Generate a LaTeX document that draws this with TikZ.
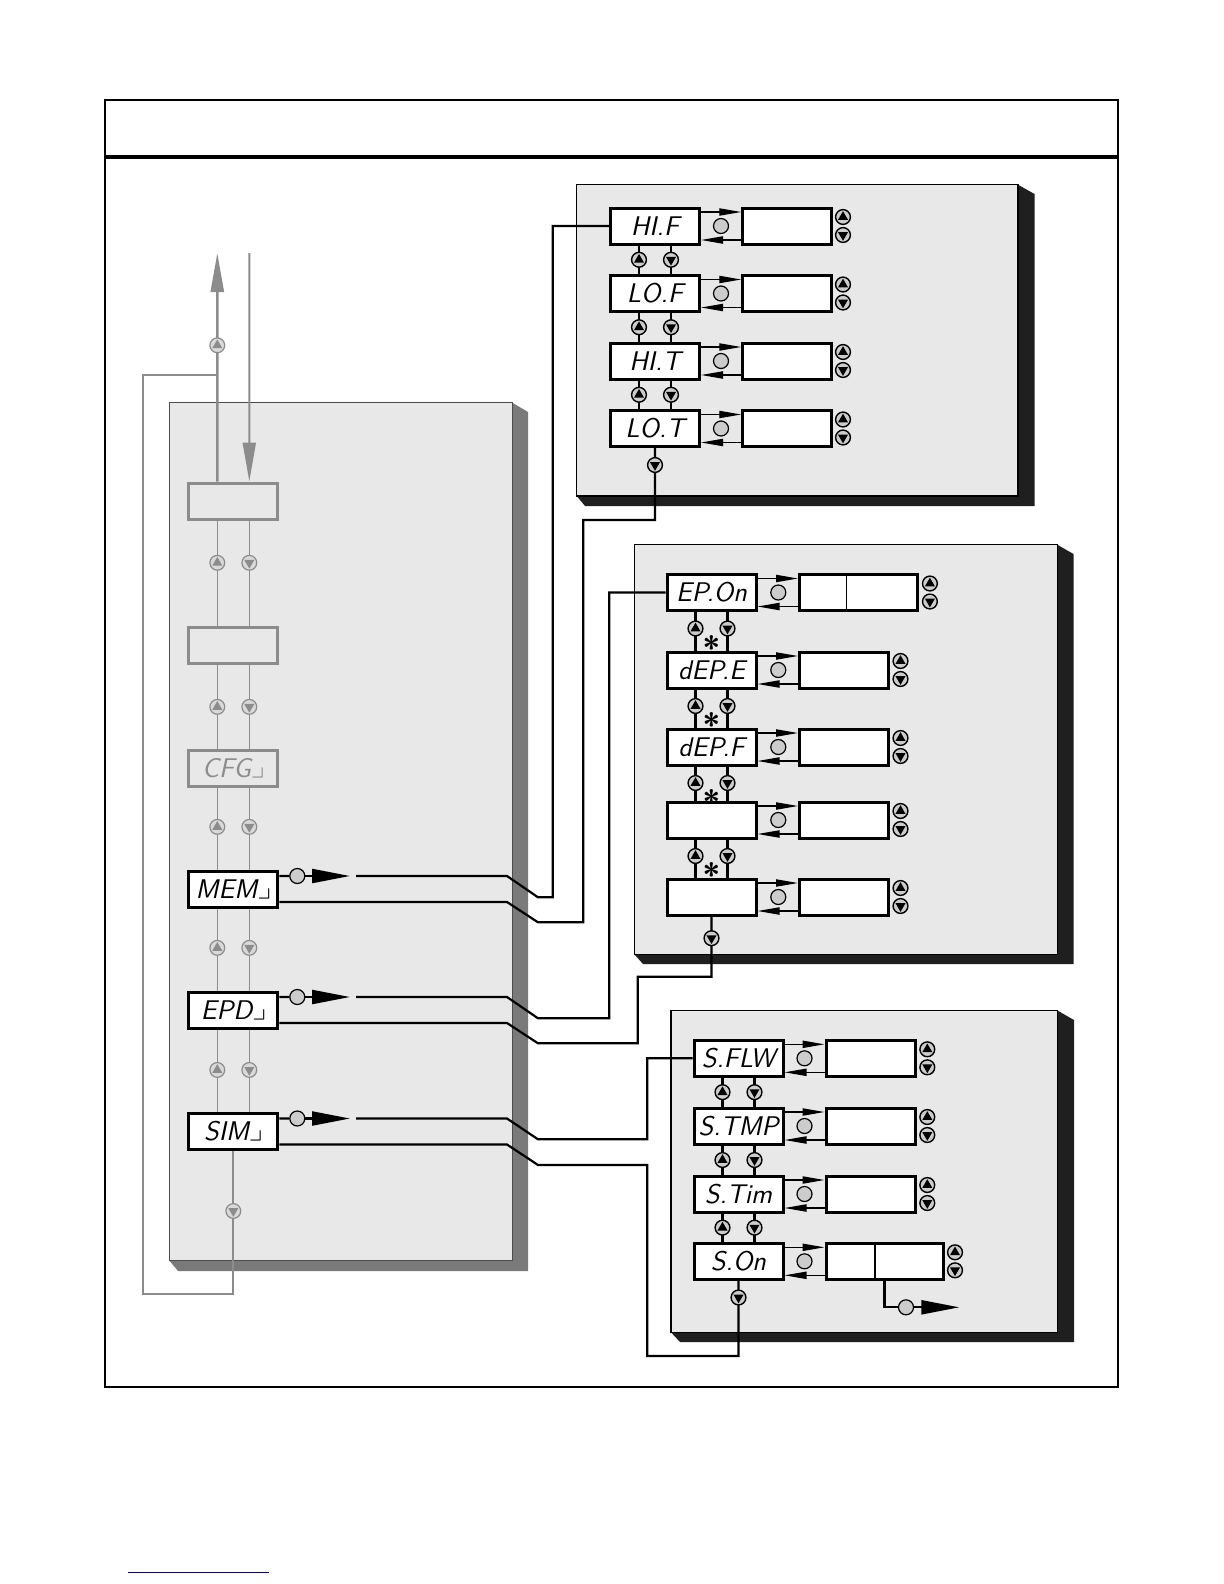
\documentclass[tikz,border=0pt]{standalone}
\usepackage{amssymb}
\usetikzlibrary{arrows.meta,calc}

\definecolor{panel}{gray}{0.91}
\definecolor{ghost}{gray}{0.55}

\tikzset{
  lcd/.style={draw,line width=1.5bp,fill=white,minimum width=44.5bp,minimum height=18bp,
    inner sep=0pt,font=\sffamily\slshape\fontsize{13.5bp}{13.5bp}\selectfont},
  valbox/.style={draw,line width=1.5bp,fill=white,minimum height=18bp,inner sep=0pt},
  okkey/.style={circle,draw,line width=0.6bp,fill=gray!40,minimum size=7.5bp,inner sep=0pt},
  wire/.style={line width=1.1bp},
  thinwire/.style={line width=0.7bp},
  smallarr/.style={-{Triangle[length=11bp,width=3.6bp]}},
  bigarr/.style={-{Triangle[length=19bp,width=7bp]}},
  star/.style={font=\sffamily\bfseries\fontsize{16bp}{16bp}\selectfont,inner sep=0pt,
    text height=0.75em,text depth=-0.3em},
  keycirc/.style={draw=black,fill=gray!40,line width=0.7bp},
  keytri/.style={fill=black},
  pics/keyup/.style={code={\draw[keycirc] (0,0) circle (3.7bp);
      \fill[keytri] (90:2.9bp) -- (210:2.9bp) -- (330:2.9bp) -- cycle;}},
  pics/keydown/.style={code={\draw[keycirc] (0,0) circle (3.7bp);
      \fill[keytri] (270:2.9bp) -- (30:2.9bp) -- (150:2.9bp) -- cycle;}},
}

\begin{document}
\begin{tikzpicture}[x=0.5bp,y=-0.5bp]
  \useasboundingbox (0,0) rectangle (1224,1584);

  % Marco
  \draw[line width=1.3bp] (105,100) rectangle (1118,1387);
  \draw[line width=2bp] (105,156.5) -- (1118,156.5);
  \draw[blue!50!black,line width=0.7bp] (128,1572.5) -- (268.5,1572.5);

  % Paneles
  \fill[black!52] (169.3,1260.5) -- (178,1271) -- (528,1271) -- (528,412) -- (512.3,402.7) -- (512.3,1260.5) -- cycle;
  \draw[fill=panel,draw=black!70,line width=0.6bp] (169.3,402.7) rectangle (512.3,1260.5);

  \fill[black!88] (576.7,496) -- (585,506) -- (1034.5,506) -- (1034.5,194) -- (1018,184.7) -- (1018,496) -- cycle;
  \draw[fill=panel,line width=0.6bp] (576.7,184.7) rectangle (1018,496);

  \fill[black!88] (634.3,954.3) -- (643,964) -- (1073.5,964) -- (1073.5,554) -- (1057.3,544.7) -- (1057.3,954.3) -- cycle;
  \draw[fill=panel,line width=0.6bp] (634.3,544.7) rectangle (1057.3,954.3);

  \fill[black!88] (671,1332.3) -- (680,1342) -- (1074,1342) -- (1074,1020) -- (1057.7,1010.7) -- (1057.7,1332.3) -- cycle;
  \draw[fill=panel,line width=0.6bp] (671,1010.7) rectangle (1057.7,1332.3);

  % Panel izquierdo
  \begin{scope}[keycirc/.style={draw=ghost,fill=gray!30,line width=0.6bp},keytri/.style={fill=ghost}]
    \node[lcd,draw=ghost,fill=none] (blanka) at (233.3,501) {};
    \node[lcd,draw=ghost,fill=none] (blankb) at (233.3,645.7) {};
    \node[lcd,draw=ghost,fill=none,text=ghost] (cfg) at (233.3,768) {CFG$\lrcorner$};
    \node[lcd] (mem) at (233.3,889) {MEM$\lrcorner$};
    \node[lcd] (epd) at (233.3,1010) {EPD$\lrcorner$};
    \node[lcd] (sim) at (233.3,1131.5) {SIM$\lrcorner$};

    \coordinate (upend) at (217.3,253);
    \coordinate (downstart) at (249.3,253);
    \coordinate (loopjoin) at (217.3,374.7);
    \draw[ghost,line width=1.3bp,-{Triangle[length=19.5bp,width=6.5bp]}] ([xshift=-8bp]blanka.north) -- (upend);
    \draw[ghost,line width=1bp,-{Triangle[length=19.5bp,width=6.5bp]}] (downstart) -- ([xshift=8bp]blanka.north);
    \draw[ghost,line width=1bp] (loopjoin) -- (142.7,374.7) -- (142.7,1294) -| (sim.south);
    \pic at (217.3,345.3) {keyup};
    \pic at (233.3,1211) {keydown};

    \foreach \a/\b/\f in {blanka/blankb/.4, blankb/cfg/.5, cfg/mem/.48, mem/epd/.48, epd/sim/.49}{
      \draw[ghost,line width=0.8bp] ([xshift=-8bp]\a.south) -- ([xshift=-8bp]\b.north);
      \draw[ghost,line width=0.8bp] ([xshift=8bp]\a.south) -- ([xshift=8bp]\b.north);
      \pic at ($([xshift=-8bp]\a.south)!\f!([xshift=-8bp]\b.north)$) {keyup};
      \pic at ($([xshift=8bp]\a.south)!\f!([xshift=8bp]\b.north)$) {keydown};
    }
  \end{scope}

  % Primer bloque
  \foreach \y/\t/\n in {226/HI.F/hif, 293.5/LO.F/lof, 361/HI.T/hit, 428.5/LO.T/lot}{
    \node[lcd] (\n) at (655,\y) {\t};
    \node[valbox,minimum width=44.25bp] (\n val) at (787,\y) {};
    \node[okkey] at (721,\y) {};
    \draw[thinwire,smallarr] ([yshift=7bp]\n.east) -- ([yshift=7bp]\n val.west);
    \draw[thinwire,smallarr] ([yshift=-7bp]\n val.west) -- ([yshift=-7bp]\n.east);
    \pic at (843,{\y-9}) {keyup};
    \pic at (843,{\y+9}) {keydown};
  }
  \foreach \a/\b in {hif/lof, lof/hit, hit/lot}{
    \draw[wire] ([xshift=-8bp]\a.south) -- ([xshift=-8bp]\b.north);
    \draw[wire] ([xshift=8bp]\a.south) -- ([xshift=8bp]\b.north);
    \pic at ($([xshift=-8bp]\a.south)!.5!([xshift=-8bp]\b.north)$) {keyup};
    \pic at ($([xshift=8bp]\a.south)!.5!([xshift=8bp]\b.north)$) {keydown};
  }

  % Segundo bloque
  \foreach \y/\t/\n/\w in {592.5/EP.On/epon/118.4, 670/dEP.E/depe/89, 747/dEP.F/depf/89, 820//depd/89, 897//depe5/89}{
    \node[lcd] (\n) at (711.5,\y) {\t};
    \node[valbox,minimum width=\w*0.5bp] (\n val) at ({799.5+\w/2},\y) {};
    \node[okkey] at (778.3,\y) {};
    \draw[thinwire,smallarr] ([yshift=7bp]\n.east) -- ([yshift=7bp]\n val.west);
    \draw[thinwire,smallarr] ([yshift=-7bp]\n val.west) -- ([yshift=-7bp]\n.east);
    \pic at ({811.5+\w},{\y-9}) {keyup};
    \pic at ({811.5+\w},{\y+9}) {keydown};
  }
  \draw[thinwire] ($(eponval.north west)+(48.5,0)$) -- ($(eponval.south west)+(48.5,0)$);
  \foreach \a/\b in {epon/depe, depe/depf, depf/depd, depd/depe5}{
    \draw[wire] ([xshift=-8bp]\a.south) -- ([xshift=-8bp]\b.north);
    \draw[wire] ([xshift=8bp]\a.south) -- ([xshift=8bp]\b.north);
    \pic at ($([xshift=-8bp]\a.south)+(0,16.5)$) {keyup};
    \pic at ($([xshift=8bp]\a.south)+(0,16.5)$) {keydown};
    \node[star] at ($(\a.south)+(0,40)$) {*};
  }

  % Tercer bloque
  \foreach \y/\t/\n/\w in {1058.3/S.FLW/sflw/89.3, 1126/S.TMP/stmp/89.3, 1194/S.Tim/stim/89.3, 1261.3/S.On/son/117}{
    \node[lcd] (\n) at (738.5,\y) {\t};
    \node[valbox,minimum width=\w*0.5bp] (\n val) at ({826+\w/2},\y) {};
    \node[okkey] at (804.5,\y) {};
    \draw[thinwire,smallarr] ([yshift=7bp]\n.east) -- ([yshift=7bp]\n val.west);
    \draw[thinwire,smallarr] ([yshift=-7bp]\n val.west) -- ([yshift=-7bp]\n.east);
    \pic at ({838+\w},{\y-9}) {keyup};
    \pic at ({838+\w},{\y+9}) {keydown};
  }
  \draw[thinwire] ($(sonval.north west)+(50.3,0)$) -- ($(sonval.south west)+(50.3,0)$);
  \foreach \a/\b in {sflw/stmp, stmp/stim, stim/son}{
    \draw[wire] ([xshift=-8bp]\a.south) -- ([xshift=-8bp]\b.north);
    \draw[wire] ([xshift=8bp]\a.south) -- ([xshift=8bp]\b.north);
    \pic at ($([xshift=-8bp]\a.south)!.5!([xshift=-8bp]\b.north)$) {keyup};
    \pic at ($([xshift=8bp]\a.south)!.5!([xshift=8bp]\b.north)$) {keydown};
  }
  \node[okkey] (sonok) at (906,1307.3) {};
  \coordinate (sonend) at (959.3,1307.3);
  \draw[wire] ($(sonval.south west)+(60,0)$) |- (sonok);
  \draw[wire,bigarr] (sonok) -- (sonend);

  % Conexiones
  \node[okkey] (memok) at (297.3,876) {};
  \node[okkey] (epdok) at (297.3,997) {};
  \node[okkey] (simok) at (297.3,1118.5) {};
  \coordinate (memgap) at (356,876);
  \coordinate (epdgap) at (356,997);
  \coordinate (simgap) at (356,1118.5);
  \foreach \n in {mem,epd,sim}{
    \draw[wire] ([yshift=6.5bp]\n.east) -- (\n ok);
    \draw[wire,bigarr] (\n ok) -- ([xshift=-3bp]\n gap);
  }
  \draw[wire] (memgap) -- (507,876) -- (538,897.3) -- (552.7,897.3) |- (hif.west);
  \draw[wire] ([yshift=-6.5bp]mem.east) -- (507,902) -- (538,922.3) -- (583.3,922.3) -- (583.3,520) -| (lot.south);
  \draw[wire] (epdgap) -- (507,997) -- (538,1018.3) -- (609.3,1018.3) |- (epon.west);
  \draw[wire] ([yshift=-6.5bp]epd.east) -- (507,1023) -- (538,1043.3) -- (637.7,1043.3) -- (637.7,976.7) -| (depe5.south);
  \draw[wire] (simgap) -- (507,1118.5) -- (538,1139.3) -- (647.3,1139.3) |- (sflw.west);
  \draw[wire] ([yshift=-6.5bp]sim.east) -- (507,1144.5) -- (538,1165) -- (647.3,1165) -- (647.3,1356) -| (son.south);
  \pic at ($(lot.south)+(0,17)$) {keydown};
  \pic at ($(depe5.south)+(0,21.7)$) {keydown};
  \pic at ($(son.south)+(0,16.7)$) {keydown};
\end{tikzpicture}
\end{document}
